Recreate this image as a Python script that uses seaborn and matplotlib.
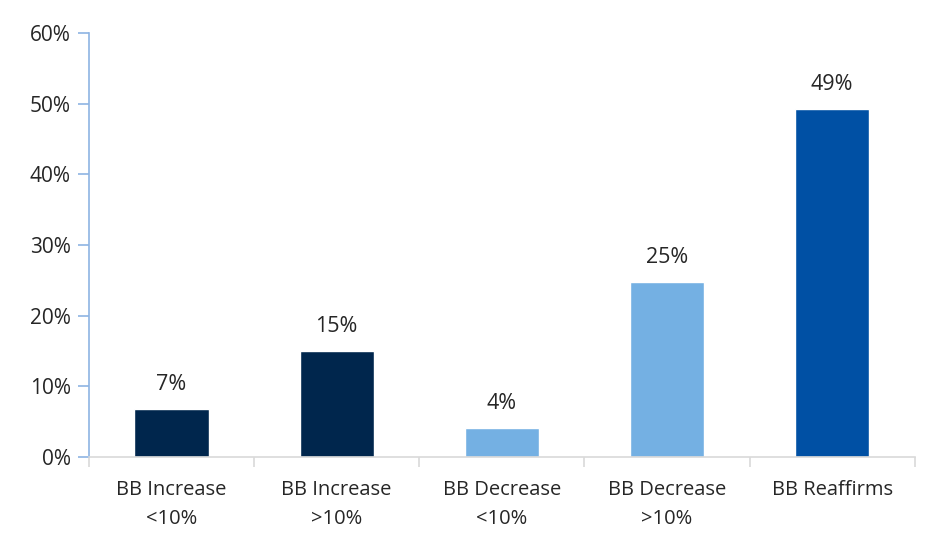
import numpy as np
import pandas as pd
import seaborn as sns
import matplotlib.pyplot as plt
from matplotlib.ticker import PercentFormatter, FixedLocator

# chart values (percent)
categories = ["BB Increase\n<10%", "BB Increase\n>10%", "BB Decrease\n<10%",
              "BB Decrease\n>10%", "BB Reaffirms"]
values = [6.8, 15.0, 4.1, 24.8, 49.3]
labels = ["7%", "15%", "4%", "25%", "49%"]
bar_colors = ["#00264D", "#00264D", "#74B0E3", "#74B0E3", "#0050A4"]

df = pd.DataFrame({"category": categories, "value": values})

sns.set_style("white")
plt.rcParams['font.family'] = ['Open Sans', 'DejaVu Sans']

fig = plt.figure(figsize=(9.46, 5.41), dpi=100)
ax = fig.add_axes([0.094, 0.155, 0.873, 0.784])

sns.barplot(data=df, x="category", y="value", hue="category",
            palette=bar_colors, width=0.45, legend=False, ax=ax,
            saturation=1)

for i, (v, lab) in enumerate(zip(values, labels)):
    ax.text(i, v + 2.0, lab, ha="center", va="bottom", fontsize=15.5,
            color="#262626")

ax.set_ylim(0, 60)
ax.set_xlim(-0.5, len(categories) - 0.5)
ax.set_yticks(np.arange(0, 61, 10))
ax.yaxis.set_major_formatter(PercentFormatter(decimals=0))
ax.set_xlabel("")
ax.set_ylabel("")

for s in ["top", "right"]:
    ax.spines[s].set_visible(False)
ax.spines["left"].set_color("#8EB4E3")
ax.spines["left"].set_linewidth(1.2)
ax.spines["bottom"].set_color("#D9D9D9")
ax.spines["bottom"].set_linewidth(1.2)

ax.tick_params(axis="y", which="major", left=True, length=8, width=1.2,
               color="#8EB4E3", labelsize=15, labelcolor="#262626", pad=5)
ax.tick_params(axis="x", which="major", bottom=False, labelsize=14.5,
               labelcolor="#262626", pad=13)
ax.xaxis.set_minor_locator(FixedLocator(np.arange(-0.5, len(categories), 1.0)))
ax.tick_params(axis="x", which="minor", bottom=True, length=7, width=1.2,
               color="#D9D9D9")
for t in ax.get_xticklabels():
    t.set_linespacing(1.6)

fig.savefig("out.png", dpi=100)
